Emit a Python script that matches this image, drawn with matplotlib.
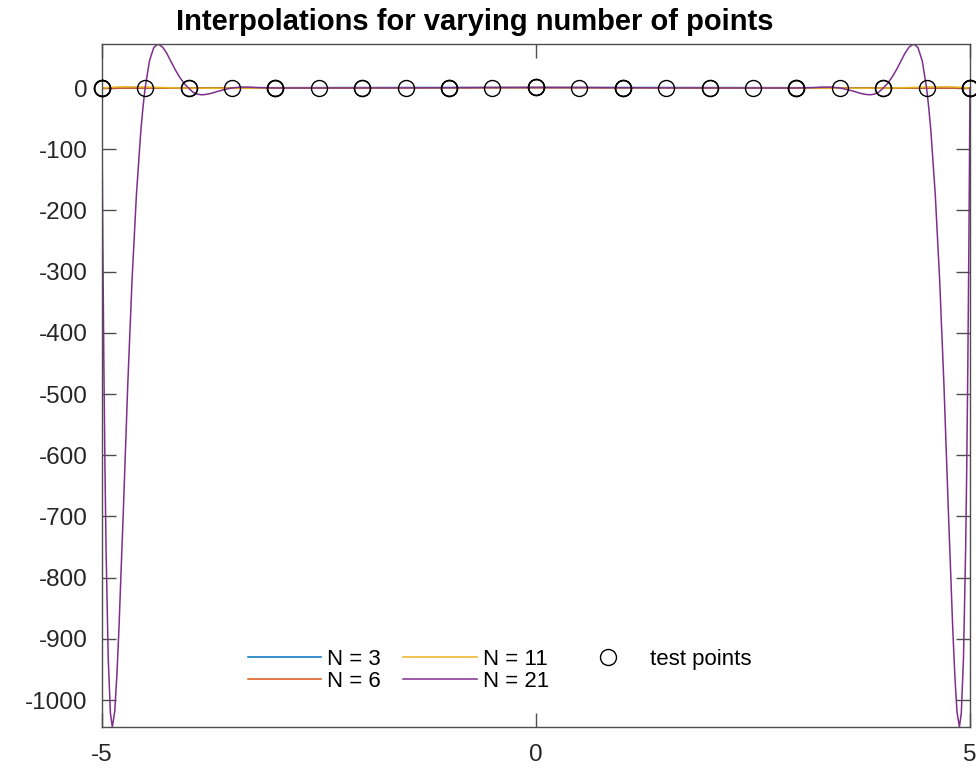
import matplotlib
matplotlib.use("Agg")
import matplotlib.pyplot as plt

plt.rcParams['font.family'] = ['Liberation Sans', 'DejaVu Sans']
plt.rcParams['axes.unicode_minus'] = False

# ---- data ----
labels = ["N = 3", "N = 6", "N = 11", "N = 21"]
colors = ["#0072BD", "#D95319", "#EDB120", "#7E2F8E"]

x_n3 = [-5.0, -4.0, -3.0, -2.0, -1.0, 0.0, 1.0, 2.0, 3.0, 4.0, 5.0]
y_n3 = [0.04, 0.38, 0.65, 0.85, 0.96, 1.0, 0.96, 0.85, 0.65, 0.38, 0.04]

x_n6 = [-5.0, -4.5, -4.0, -3.5, -3.0, -2.0, -1.0, 0.0, 1.0, 2.0, 3.0, 3.5, 4.0, 4.5, 5.0]
y_n6 = [0.04, -0.05, -0.05, 0.02, 0.1, 0.32, 0.5, 0.57, 0.5, 0.32, 0.1, 0.02, -0.05, -0.05, 0.04]

x_n11 = [-5.0, -4.9, -4.8, -4.7, -4.6, -4.5, -4.4, -4.3, -4.2, -4.1, -4.0, -3.75, -3.5, -3.25,
         -3.0, -2.5, -2.0, -1.5, -1.0, -0.5, 0.0,
         0.5, 1.0, 1.5, 2.0, 2.5, 3.0, 3.25, 3.5, 3.75, 4.0, 4.1, 4.2, 4.3, 4.4, 4.5, 4.6, 4.7,
         4.8, 4.9, 5.0]
y_n11 = [0.04, 1.2, 1.8, 1.95, 1.85, 1.58, 1.2, 0.8, 0.45, 0.2, 0.06, -0.3, -0.22, -0.05,
         0.1, 0.25, 0.2, 0.24, 0.5, 0.84, 1.0,
         0.84, 0.5, 0.24, 0.2, 0.25, 0.1, -0.05, -0.22, -0.3, 0.06, 0.2, 0.45, 0.8, 1.2, 1.58, 1.85, 1.95,
         1.8, 1.2, 0.04]

x_n21 = [-5.0, -4.9875, -4.975, -4.9625, -4.95, -4.925, -4.9, -4.878, -4.85, -4.825, -4.8,
         -4.775, -4.75, -4.7, -4.65, -4.6, -4.55, -4.525, -4.5,
         -4.45, -4.4, -4.352, -4.3, -4.25, -4.2, -4.15, -4.1, -4.05, -4.0,
         -3.95, -3.9, -3.85, -3.8, -3.75, -3.7, -3.65, -3.6, -3.55, -3.5,
         -3.4, -3.3, -3.2, -3.0, -2.5, -2.0, -1.5, -1.0, -0.5, 0.0,
         0.5, 1.0, 1.5, 2.0, 2.5, 3.0, 3.2, 3.3, 3.4,
         3.5, 3.55, 3.6, 3.65, 3.7, 3.75, 3.8, 3.85, 3.9, 3.95,
         4.0, 4.05, 4.1, 4.15, 4.2, 4.25, 4.3, 4.352, 4.4, 4.45,
         4.5, 4.525, 4.55, 4.6, 4.65, 4.7, 4.75, 4.775, 4.8, 4.825, 4.85, 4.878,
         4.9, 4.925, 4.95, 4.9625, 4.975, 4.9875, 5.0]
y_n21 = [0.04, -248, -453, -619, -752, -931, -1021, -1044, -1019, -959, -879,
         -782, -688, -485, -312, -174, -71, -32, 0.05,
         44.5, 66.3, 72, 67.2, 56.7, 42.7, 29.2, 17.3, 7.4, 0.06,
         -6.6, -9.9, -11.0, -10.4, -9.0, -7.0, -4.8, -3.0, -1.3, 0.08,
         1.6, 1.6, 0.8, 0.1, 0.14, 0.2, 0.31, 0.5, 0.8, 1.0,
         0.8, 0.5, 0.31, 0.2, 0.14, 0.1, 0.8, 1.6, 1.6,
         0.08, -1.3, -3.0, -4.8, -7.0, -9.0, -10.4, -11.0, -9.9, -6.6,
         0.06, 7.4, 17.3, 29.2, 42.7, 56.7, 67.2, 72, 66.3, 44.5,
         0.05, -32, -71, -174, -312, -485, -688, -782, -879, -959, -1019, -1044,
         -1021, -931, -752, -619, -453, -248, 0.04]

# test points (nodes of each interpolation)
tx_3 = [-5.0, 0.0, 5.0]
ty_3 = [0.038, 1.0, 0.038]
tx_6 = [-5.0, -3.0, -1.0, 1.0, 3.0, 5.0]
ty_6 = [0.038, 0.1, 0.5, 0.5, 0.1, 0.038]
tx_11 = [-5.0, -4.0, -3.0, -2.0, -1.0, 0.0, 1.0, 2.0, 3.0, 4.0, 5.0]
ty_11 = [0.038, 0.059, 0.1, 0.2, 0.5, 1.0, 0.5, 0.2, 0.1, 0.059, 0.038]
tx_21 = [-5.0, -4.5, -4.0, -3.5, -3.0, -2.5, -2.0, -1.5, -1.0, -0.5, 0.0,
         0.5, 1.0, 1.5, 2.0, 2.5, 3.0, 3.5, 4.0, 4.5, 5.0]
ty_21 = [0.038, 0.047, 0.059, 0.075, 0.1, 0.138, 0.2, 0.308, 0.5, 0.8, 1.0,
         0.8, 0.5, 0.308, 0.2, 0.138, 0.1, 0.075, 0.059, 0.047, 0.038]

title = "Interpolations for varying number of points"
xticks = [-5, 0, 5]
yticks = [0, -100, -200, -300, -400, -500, -600, -700, -800, -900, -1000]
xlim = (-5, 5)
ylim = (-1044, 72)

# ---- figure ----
W, H = 976, 768
fig = plt.figure(figsize=(W / 100, H / 100), dpi=100)
ax = fig.add_axes([101.7 / W, 1 - 727 / H, (970 - 101.7) / W, (727 - 44) / H])

curves = [(x_n3, y_n3), (x_n6, y_n6), (x_n11, y_n11), (x_n21, y_n21)]
handles = []
for (xs, ys), lab, c in zip(curves, labels, colors):
    h, = ax.plot(xs, ys, color=c, lw=1.1, label=lab)
    handles.append(h)

tp = None
for tx, ty in [(tx_3, ty_3), (tx_6, ty_6), (tx_11, ty_11), (tx_21, ty_21)]:
    tp, = ax.plot(tx, ty, 'o', mfc='none', mec='black', ms=11.5, mew=1.0,
                  label='test points', clip_on=False, zorder=5)
handles.append(tp)

ax.set_xlim(*xlim)
ax.set_ylim(*ylim)
ax.set_xticks(xticks)
ax.set_yticks(yticks)
ax.set_xticklabels([str(v) for v in xticks])
ax.set_yticklabels([str(v) for v in yticks])

axcol = '#262626'
for s in ax.spines.values():
    s.set_color('#4d4d4d')
    s.set_linewidth(1.0)
ax.tick_params(direction='in', length=10, width=1.0, color='#4d4d4d',
               labelcolor=axcol, labelsize=17.5, top=True, right=True)
ax.tick_params(axis='y', pad=10)
ax.tick_params(axis='x', pad=12)

fig.text(475 / W, 1 - 30 / H, title, ha='center', va='baseline',
         fontsize=21, fontweight='bold', color='black')

fig.legend(handles=handles, labels=labels + ['test points'], ncol=3,
           loc='upper left', bbox_to_anchor=(248 / W, 1 - 649 / H),
           bbox_transform=fig.transFigure, frameon=False, fontsize=16,
           borderpad=0, borderaxespad=0, handlelength=3.3, handletextpad=0.27,
           columnspacing=1.0, labelspacing=0.05, numpoints=1)

fig.savefig('out.png', dpi=100)
